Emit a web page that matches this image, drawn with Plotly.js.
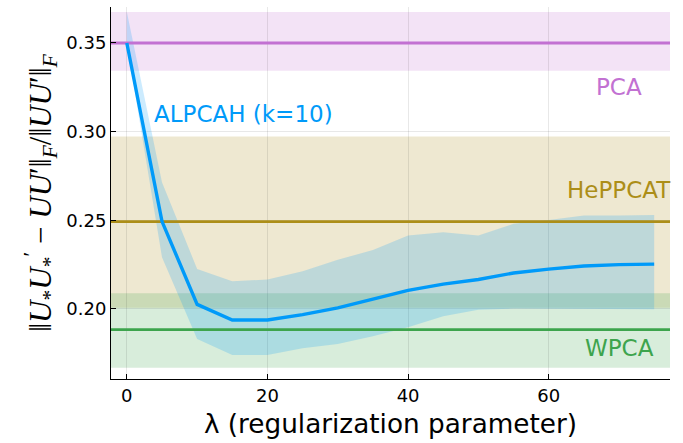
<!DOCTYPE html>
<html>
<head>
<meta charset="utf-8">
<script src="https://cdn.plot.ly/plotly-3.0.1.min.js"></script>
<style>html,body{margin:0;padding:0;background:#fff;}</style>
</head>
<body>
<div id="chart" style="width:683px;height:443px;"></div>
<script>
// ALPCAH (k=10) vs regularization parameter
const lambdas = [0, 5, 10, 15, 20, 25, 30, 35, 40, 45, 50, 55, 60, 65, 70, 75];
const alpcahMean  = [0.350, 0.2494, 0.2026, 0.1938, 0.1938, 0.1968, 0.2006, 0.2055, 0.2105, 0.2140, 0.2166, 0.2203, 0.2225, 0.2242, 0.2250, 0.2253];
const alpcahUpper = [0.3676, 0.2714, 0.2226, 0.2156, 0.2166, 0.2213, 0.2277, 0.2333, 0.2414, 0.2433, 0.2414, 0.2480, 0.2502, 0.2527, 0.2527, 0.2530];
const alpcahLower = [0.350, 0.2292, 0.1831, 0.1741, 0.1741, 0.1778, 0.1803, 0.1846, 0.1897, 0.1959, 0.1995, 0.2002, 0.2002, 0.2000, 0.1999, 0.1998];

// Baselines: mean value and band (low, high)
const baselineNames = ["PCA", "HePPCAT", "WPCA"];
const baselineMean  = [0.350, 0.2493, 0.1883];
const baselineLow   = [0.3344, 0.2007, 0.1669];
const baselineHigh  = [0.3675, 0.2972, 0.2088];
const baselineLabelY = [0.325, 0.267, 0.178];
const baselineColors = ["#c271d2", "#ac8e18", "#3da44d"];
const baselineFills  = ["rgba(194,113,210,0.2)", "rgba(172,142,24,0.2)", "rgba(61,164,77,0.2)"];

const xTicks = [0, 20, 40, 60];
const yTicks = [0.20, 0.25, 0.30, 0.35];
const xRange = [-2.25, 77.25];
const yRange = [0.1605, 0.3703];

const blue = "#009af9";
const font = "DejaVu Sans";

const traces = [];
// ribbon
traces.push({
  x: lambdas.concat(lambdas.slice().reverse()),
  y: alpcahUpper.concat(alpcahLower.slice().reverse()),
  type: "scatter", mode: "lines", fill: "toself",
  fillcolor: "rgba(0,154,249,0.2)", line: {width: 0, color: "rgba(0,0,0,0)"},
  hoverinfo: "skip", showlegend: false
});
// baseline lines
baselineNames.forEach((n, i) => {
  traces.push({
    x: xRange, y: [baselineMean[i], baselineMean[i]],
    type: "scatter", mode: "lines", name: n,
    line: {color: baselineColors[i], width: 2.8}, showlegend: false
  });
});
// ALPCAH mean line
traces.push({
  x: lambdas, y: alpcahMean, type: "scatter", mode: "lines",
  line: {color: blue, width: 3.4}, showlegend: false, name: "ALPCAH (k=10)"
});

const shapes = baselineNames.map((n, i) => ({
  type: "rect", xref: "paper", yref: "y", x0: 0, x1: 1,
  y0: baselineLow[i], y1: baselineHigh[i],
  fillcolor: baselineFills[i], line: {width: 0}, layer: "below"
}));

const annotations = baselineNames.map((n, i) => ({
  x: 70, y: baselineLabelY[i], xref: "x", yref: "y", text: n, showarrow: false,
  font: {family: font, size: 23, color: baselineColors[i]}, xanchor: "center", yanchor: "middle"
}));
annotations.push({
  x: 16.6, y: 0.31, xref: "x", yref: "y", text: "ALPCAH (k=10)", showarrow: false,
  font: {family: font, size: 23, color: blue}, xanchor: "center", yanchor: "middle"
});

const layout = {
  width: 683, height: 443,
  margin: {l: 111, r: 13, t: 7, b: 64},
  paper_bgcolor: "#fff", plot_bgcolor: "#fff",
  font: {family: font, color: "#000"},
  xaxis: {
    range: xRange, tickvals: xTicks, ticktext: xTicks.map(String),
    ticks: "inside", ticklen: 5, tickcolor: "#000", tickwidth: 1,
    showline: true, linecolor: "#000", linewidth: 1,
    showgrid: true, gridcolor: "rgba(0,0,0,0.09)", gridwidth: 1, zeroline: false,
    tickfont: {family: font, size: 18, color: "#000"},
    title: {text: "λ (regularization parameter)", font: {family: font, size: 26.3, color: "#000"}, standoff: 9}
  },
  yaxis: {
    range: yRange, tickvals: yTicks, ticktext: yTicks.map(v => v.toFixed(2)),
    ticks: "inside", ticklen: 5, tickcolor: "#000", tickwidth: 1,
    showline: true, linecolor: "#000", linewidth: 1,
    showgrid: true, gridcolor: "rgba(0,0,0,0.09)", gridwidth: 1, zeroline: false,
    tickfont: {family: font, size: 18, color: "#000"},
    title: {
      text: "‖<i>U</i><sub>*</sub><i>U</i><sub>*</sub><sup>′</sup> − <i>UU</i>′‖<sub><i>F</i></sub>/‖<i>UU</i>′‖<sub><i>F</i></sub>",
      font: {family: "Liberation Serif", size: 31, color: "#000"}, standoff: 5
    }
  },
  shapes: shapes,
  annotations: annotations,
  showlegend: false
};

Plotly.newPlot("chart", traces, layout, {displayModeBar: false, staticPlot: true});
</script>
</body>
</html>
